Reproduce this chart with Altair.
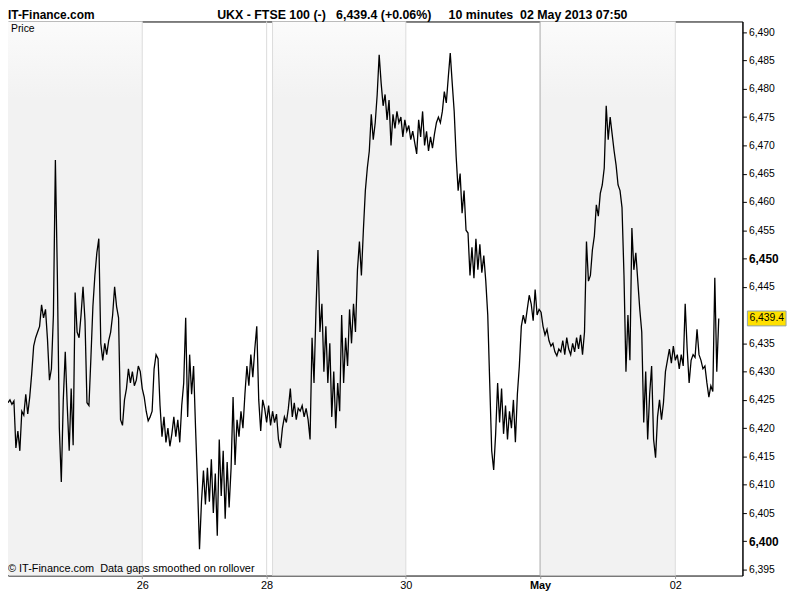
import altair as alt
import pandas as pd

# ---- data (10-minute bars, trading-time index) ----
prices = [
    6424.5, 6425.0, 6424.2, 6424.8, 6416.5, 6419.5, 6416.0, 6423.0, 6422.3, 6426.0,
    6422.5, 6425.5, 6429.6, 6434.5, 6436.0, 6437.0,
    6438.0, 6441.8, 6439.5, 6441.0, 6435.7, 6428.5, 6430.5, 6440.0,
    6467.4, 6447.0, 6420.0, 6410.5,
    6425.0, 6433.5, 6424.0, 6416.0, 6427.0, 6417.0,
    6444.0, 6437.0, 6436.0, 6440.0, 6445.0, 6439.0,
    6424.5, 6424.0, 6432.5, 6441.5, 6447.0, 6451.0, 6453.5,
    6435.0, 6432.0, 6435.0, 6433.0, 6435.5, 6437.0,
    6440.0, 6445.0, 6441.5, 6439.5,
    6421.5, 6420.5, 6425.0,
    6427.0, 6430.5, 6428.0, 6430.0,
    6427.5, 6428.5, 6431.0, 6430.0,
    6427.0, 6425.5, 6423.0, 6421.3, 6422.0, 6423.0,
    6430.5, 6433.0, 6432.3, 6424.0,
    6418.5, 6422.0, 6417.5, 6420.0, 6416.8,
    6419.0, 6422.0, 6418.5, 6421.5, 6417.5, 6424.0, 6428.0, 6439.5,
    6422.0, 6433.0, 6426.0, 6431.0, 6420.0,
    6410.0, 6398.6, 6407.0,
    6412.5, 6406.5, 6413.0, 6407.0, 6414.5,
    6405.0, 6412.0, 6401.0,
    6418.0, 6408.0, 6416.0, 6404.0,
    6414.0, 6406.0, 6413.0,
    6425.5, 6413.5, 6421.5,
    6418.5, 6423.0, 6420.0,
    6426.0,
    6431.0, 6427.5, 6433.0,
    6429.0, 6434.0, 6438.0,
    6425.0,
    6419.5, 6425.0, 6423.5, 6421.0, 6424.0, 6420.5,
    6423.0, 6421.0, 6422.5,
    6418.0, 6416.5,
    6420.0, 6422.0, 6421.0,
    6423.5, 6427.0,
    6422.0, 6424.5, 6421.5, 6423.5,
    6423.0, 6424.0, 6422.0, 6423.5, 6421.5, 6418.0,
    6436.0, 6428.0, 6441.0, 6451.5,
    6437.0, 6442.0, 6430.0, 6438.0, 6428.0, 6435.0,
    6422.0, 6430.0, 6420.0, 6428.0, 6423.0,
    6440.0, 6428.0, 6436.0, 6431.0,
    6441.0, 6435.0, 6442.0, 6437.0,
    6448.0, 6453.0, 6447.0, 6455.0,
    6462.0, 6466.0,
    6469.0, 6475.5, 6471.0, 6474.0,
    6479.0, 6486.0, 6481.0,
    6477.0, 6479.0, 6474.5, 6478.0, 6470.0, 6475.5, 6473.0, 6476.0, 6474.0, 6475.0,
    6471.5, 6474.5, 6472.5, 6473.5, 6471.0, 6472.5, 6470.5, 6468.5, 6474.5, 6471.5,
    6476.0, 6470.0, 6472.5, 6469.0, 6471.5, 6469.5, 6472.0, 6474.0, 6475.0, 6474.0,
    6476.0, 6479.5, 6477.5, 6482.0, 6486.3, 6481.0, 6476.0,
    6468.0, 6462.0, 6465.0, 6458.0, 6462.0, 6455.0, 6454.5, 6447.0, 6452.0, 6446.5,
    6453.5, 6448.0, 6452.5, 6447.5, 6450.5, 6446.0, 6440.0,
    6428.0, 6416.0, 6412.6, 6419.0, 6428.0, 6421.0, 6427.0, 6419.0, 6424.0, 6418.0,
    6423.0, 6420.0, 6425.0, 6417.5, 6426.0, 6431.0, 6438.0, 6440.0, 6438.5, 6441.0,
    6443.5,
    6442.0, 6439.0, 6444.5, 6440.0, 6441.0, 6440.5, 6438.0, 6436.5, 6437.5, 6435.5,
    6434.5, 6435.0, 6433.5, 6432.8, 6434.0, 6433.5, 6435.5, 6433.0, 6436.0, 6434.0,
    6433.0, 6435.0, 6433.5, 6436.0, 6434.0, 6436.5, 6433.0, 6437.0,
    6453.0, 6446.0, 6447.0, 6451.5, 6454.0, 6459.5, 6457.5, 6461.5, 6463.0, 6466.0,
    6477.0, 6471.0, 6475.0, 6472.0, 6469.0, 6466.5, 6463.0, 6462.0, 6459.0, 6447.0,
    6430.0, 6440.0,
    6432.0, 6455.4, 6448.0, 6451.0, 6446.0, 6441.0, 6437.0, 6421.0, 6430.0, 6418.0,
    6426.0, 6431.0, 6418.0, 6414.8, 6422.0, 6425.0, 6421.5, 6424.5,
    6430.0, 6432.0, 6434.0, 6431.5, 6434.5, 6432.0, 6433.0, 6430.5, 6433.0, 6431.0,
    6442.0, 6434.0, 6428.0, 6432.0, 6433.0, 6432.5, 6437.5, 6433.0, 6432.0, 6430.5,
    6431.0, 6428.0, 6425.5, 6427.5, 6426.5, 6446.6, 6430.0, 6439.4,
]

# x axis (trading-time bar index) tick positions and labels
tick_pos = [68, 131, 201.5, 269.5, 338]
tick_labels = ["26", "28", "30", "May", "02"]
# shaded trading days (Apr 25, Apr 29, May 1)
band_start = [0, 134, 269.5]
band_end = [68, 201.5, 338]
# vertical separators
grid_pos = [68, 131, 134, 201.5, 269.5, 338]
grid_kind = ["day", "day", "day", "day", "month", "day"]
# y axis ticks (6,440 is covered by the last-price box)
y_ticks = [v for v in range(6395, 6495, 5) if v != 6440]

NB = "\u00a0"
last_label = "6,439.4"
header_left = "IT-Finance.com"
header_main = ("UKX - FTSE 100 (-)" + NB * 3 + "6,439.4 (+0.06%)" + NB * 5
               + "10 minutes" + NB * 2 + "02 May 2013 07:50")
price_label = "Price"
footer = "\u00a9 IT-Finance.com" + NB * 2 + "Data gaps smoothed on rollover"

# ---- chart ----
W, H = 741, 559
XDOM = [0, 372]
YDOM = [6393.95, 6491.9]
FONT = "Liberation Sans, Arial, sans-serif"

df = pd.DataFrame({"bar": list(range(len(prices))), "price": prices})
bands = pd.DataFrame({"start": band_start, "end": band_end})
grid = pd.DataFrame({"pos": grid_pos, "kind": grid_kind})

xs = alt.Scale(domain=XDOM, nice=False, zero=False)
ys = alt.Scale(domain=YDOM, nice=False, zero=False)

label_expr = " : ".join(
    f"datum.value == {p} ? '{l}'" for p, l in zip(tick_pos, tick_labels)
) + " : ''"

x_axis = alt.Axis(
    values=tick_pos, labelExpr=label_expr, title=None, grid=False,
    tickSize=3, tickColor="#999999", domain=False, labelPadding=1,
    labelFont=FONT, labelFontSize=11, labelColor="#000000",
    labelFontWeight={"condition": {"test": "datum.value == 269.5", "value": "bold"}, "value": "normal"},
)
y_axis = alt.Axis(
    orient="right", values=y_ticks, format=",d", title=None, grid=False,
    tickSize=4, tickColor="#000000", domain=True, domainColor="#000000",
    labelPadding=2, labelFont=FONT, labelColor="#000000",
    labelFontSize={"condition": {"test": "datum.value % 50 === 0", "value": 12}, "value": 10.5},
    labelFontWeight={"condition": {"test": "datum.value % 50 === 0", "value": "bold"}, "value": "normal"},
)


def xenc(field):
    return alt.X(f"{field}:Q", scale=xs, axis=x_axis)


def yenc(field):
    return alt.Y(f"{field}:Q", scale=ys, axis=y_axis)


band_fill = alt.LinearGradient(
    gradient="linear", x1=0, y1=0, x2=0, y2=1,
    stops=[
        alt.GradientStop(offset=0, color="#fbfbfb"),
        alt.GradientStop(offset=0.14, color="#f2f2f2"),
        alt.GradientStop(offset=1, color="#f2f2f2"),
    ],
)

band_layer = alt.Chart(bands).mark_rect(fill=band_fill).encode(
    x=xenc("start"), x2="end:Q", y=alt.value(0), y2=alt.value(H)
)

grid_layer = alt.Chart(grid).mark_rule(strokeWidth=1).encode(
    x=xenc("pos"), y=alt.value(0), y2=alt.value(H),
    color=alt.Color("kind:N", scale=alt.Scale(domain=["day", "month"], range=["#dcdcdc", "#a8a8a8"]), legend=None),
)

line_layer = alt.Chart(df).mark_line(color="#000000", strokeWidth=1.3, interpolate="linear").encode(
    x=xenc("bar"), y=yenc("price")
)


def text_layer(txt, x, y, size, weight="normal", font=FONT, align="left"):
    return alt.Chart(pd.DataFrame({"t": [txt]})).mark_text(
        align=align, baseline="alphabetic", fontSize=size, fontWeight=weight,
        font=font, color="#000000",
    ).encode(text="t:N", x=alt.value(x), y=alt.value(y))


hdr1 = text_layer(header_left, 0, -3, 12, "bold")
hdr2 = text_layer(header_main, 211, -3, 12.5, "bold")
price_t = text_layer(price_label, 3, 11, 10.5)
foot_t = text_layer(footer, 0, H - 4, 11)

last_df = pd.DataFrame({"price": [prices[-1]], "label": [last_label]})
box = alt.Chart(last_df).mark_rect(height=15, fill="#ffe000", stroke="#8fa3ad", strokeWidth=1).encode(
    x=alt.value(W + 5), x2=alt.value(W + 44), y=yenc("price")
)
box_t = alt.Chart(last_df).mark_text(
    align="left", baseline="middle", fontSize=10.5, font=FONT, color="#000000"
).encode(x=alt.value(W + 7), y=yenc("price"), text="label:N")

chart = alt.layer(
    band_layer, grid_layer, line_layer, price_t, foot_t, hdr1, hdr2, box, box_t
).properties(
    width=W, height=H,
    autosize=alt.AutoSizeParams(type="none"),
    padding={"left": 0, "top": 11, "right": 50, "bottom": 14},
    background="#ffffff",
).configure_view(stroke="#000000", strokeWidth=1)

chart.save("out.html", embed_options={"renderer": "svg", "actions": False})
